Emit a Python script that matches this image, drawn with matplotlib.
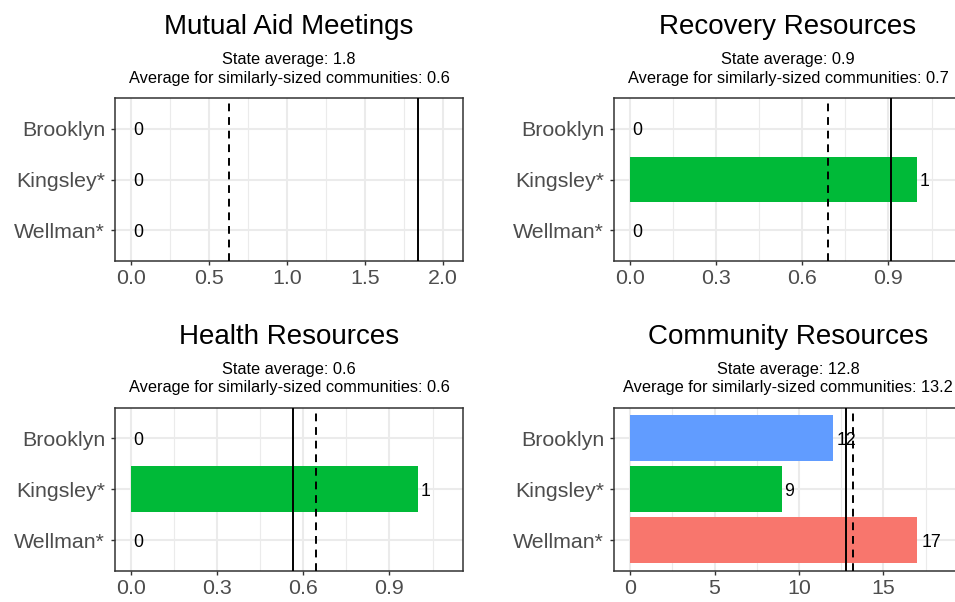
import matplotlib
matplotlib.use("Agg")
import matplotlib.pyplot as plt
from matplotlib.ticker import MultipleLocator, AutoMinorLocator

plt.rcParams["font.family"] = ["Liberation Sans", "DejaVu Sans"]

# data
communities = ["Brooklyn", "Kingsley*", "Wellman*"]
colors = ["#619CFF", "#00BA38", "#F8766D"]
titles = ["Mutual Aid Meetings", "Recovery Resources",
          "Health Resources", "Community Resources"]
mutual_aid = [0, 0, 0]
recovery = [0, 1, 0]
health = [0, 1, 0]
community = [12, 9, 17]
state_avg = [1.84, 0.91, 0.564, 12.78]
similar_avg = [0.63, 0.69, 0.644, 13.21]
tick_step = [0.5, 0.3, 0.3, 5]
values = [mutual_aid, recovery, health, community]

fig = plt.figure(figsize=(9.55, 6.02), dpi=100)
W, H = 955, 602
ax_w, ax_h = 347.4, 163
lefts = [115.3, 614.3]
tops = [98, 407.7]

for k in range(4):
    r, c = divmod(k, 2)
    ax = fig.add_axes([lefts[c] / W, 1 - (tops[r] + ax_h) / H, ax_w / W, ax_h / H])
    vals = values[k]
    ypos = list(range(len(communities)))
    ax.barh(ypos, vals, height=0.9, color=colors, zorder=2)
    ax.axvline(state_avg[k], color="black", lw=1.4, zorder=3)
    ax.axvline(similar_avg[k], color="black", lw=1.4, ls=(0, (4, 3)), zorder=3)
    for y, v in zip(ypos, vals):
        lab = f"{v}"
        ax.annotate(lab, (v, y), xytext=(0.22 * len(lab) * 0.556 * 12.8, 0),
                    textcoords="offset points", ha="left", va="center_baseline",
                    fontsize=12.8, color="black", zorder=4)

    upper = 1.1 * max(max(vals), state_avg[k], similar_avg[k])
    ax.set_xlim(-0.05 * upper, 1.05 * upper)
    ax.set_ylim(len(communities) - 0.4, -0.6)
    ax.set_yticks(ypos)
    ax.set_yticklabels(communities)
    ax.xaxis.set_major_locator(MultipleLocator(tick_step[k]))
    ax.xaxis.set_minor_locator(AutoMinorLocator(2))
    if tick_step[k] < 1:
        ax.xaxis.set_major_formatter(lambda x, p: f"{x:.1f}")
    else:
        ax.xaxis.set_major_formatter(lambda x, p: f"{x:.0f}")

    ax.grid(which="major", color="#EBEBEB", lw=1.5, zorder=0)
    ax.grid(which="minor", axis="x", color="#EBEBEB", lw=0.8, zorder=0)
    ax.set_axisbelow(True)
    for s in ax.spines.values():
        s.set_color("#333333")
        s.set_linewidth(1.1)
    ax.tick_params(which="major", length=3.2, width=1.0, color="#333333",
                   labelsize=15.4, labelcolor="#4D4D4D")
    ax.tick_params(axis="x", which="major", pad=2.8)
    ax.tick_params(axis="y", which="major", pad=4.2)
    ax.tick_params(which="minor", length=0)

    ax.annotate(titles[k], (0.5, 1), xycoords="axes fraction", xytext=(0, 46.1),
                textcoords="offset points", ha="center", va="baseline", fontsize=20)
    ax.annotate(f"State average: {state_avg[k]:.1f}", (0.5, 1), xycoords="axes fraction",
                xytext=(0, 24.3), textcoords="offset points", ha="center",
                va="baseline", fontsize=11.8)
    ax.annotate(f"Average for similarly-sized communities: {similar_avg[k]:.1f}", (0.5, 1),
                xycoords="axes fraction", xytext=(0, 11), textcoords="offset points",
                ha="center", va="baseline", fontsize=11.8)

fig.savefig("out.png", dpi=100)
